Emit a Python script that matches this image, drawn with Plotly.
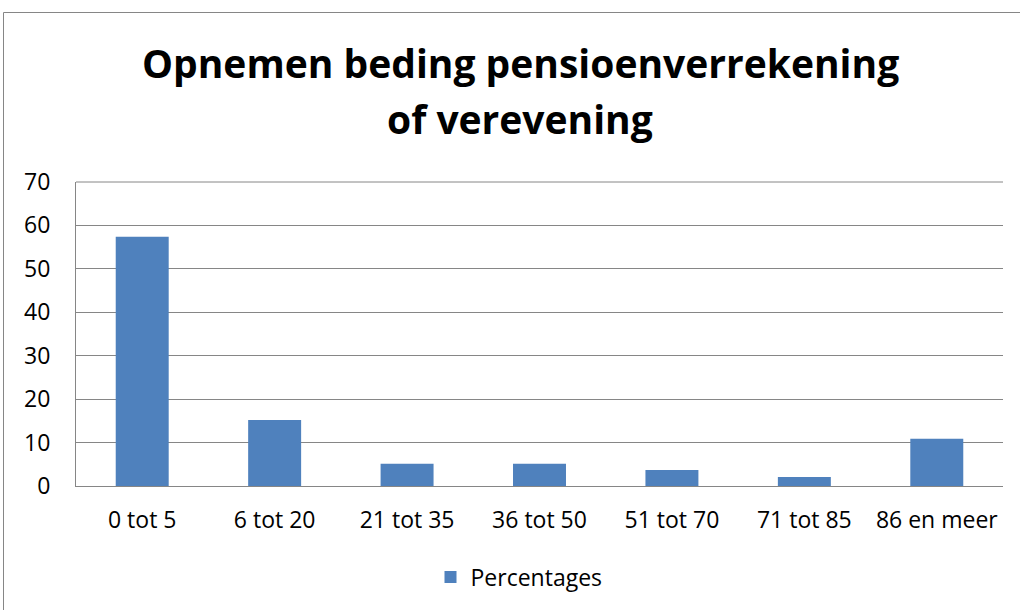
import plotly.graph_objects as go

categories = ["0 tot 5", "6 tot 20", "21 tot 35", "36 tot 50", "51 tot 70", "71 tot 85", "86 en meer"]
percentages = [57.4, 15.2, 5.1, 5.1, 3.7, 2.1, 10.9]
series_name = "Percentages"
title_lines = ["Opnemen beding pensioenverrekening", "of verevening"]

FONT = "'Open Sans', Carlito, Calibri, sans-serif"
GRID = "#868686"

L, R, T, B = 76, 17, 182, 124
W, H = 1020, 610
pw = W - L - R
ph = H - T - B

def px(x):
    return (x - L) / pw

def py(y):
    return (H - B - y) / ph

fig = go.Figure()
fig.add_trace(go.Bar(
    x=categories, y=percentages, name=series_name,
    marker=dict(color="#4F81BD", line=dict(width=0)),
    showlegend=True,
))

annotations = []
for line, cy in zip(title_lines, [62, 118]):
    annotations.append(dict(text=line, xref="paper", yref="paper", x=px(520), y=py(cy),
                            xanchor="center", yanchor="middle", showarrow=False,
                            font=dict(family=FONT, size=39, color="#000000", weight="bold")))

fig.update_layout(
    width=W, height=H,
    margin=dict(l=L, r=R, t=T, b=B),
    paper_bgcolor="white", plot_bgcolor="white",
    bargap=0.6,
    font=dict(family=FONT, color="#000000", size=23),
    annotations=annotations,
    showlegend=True,
    legend=dict(orientation="h", x=px(519), xanchor="center", y=py(577), yanchor="middle",
                font=dict(size=23), itemwidth=30),
    xaxis=dict(showgrid=False, showline=True, linecolor=GRID, linewidth=1,
               ticks="outside", ticklen=13, tickcolor="rgba(0,0,0,0)", tickfont=dict(size=23)),
    yaxis=dict(range=[0, 70], dtick=10, showgrid=True, gridcolor=GRID, gridwidth=1,
               showline=True, linecolor=GRID, linewidth=1, zeroline=False,
               ticks="outside", ticklen=20, tickcolor="rgba(0,0,0,0)", tickfont=dict(size=23)),
    shapes=[
        dict(type="line", xref="paper", yref="paper", x0=px(3.5), x1=px(1030), y0=py(12.5), y1=py(12.5),
             line=dict(color=GRID, width=1)),
        dict(type="line", xref="paper", yref="paper", x0=px(3.5), x1=px(3.5), y0=py(12.5), y1=py(630),
             line=dict(color=GRID, width=1)),
        dict(type="line", xref="paper", yref="paper", x0=0, x1=1, y0=1, y1=1,
             line=dict(color=GRID, width=1)),
    ],
)

fig.write_html("out.html", config={"displayModeBar": False},
               post_script="document.body.style.margin='0';document.body.style.padding='0';")
